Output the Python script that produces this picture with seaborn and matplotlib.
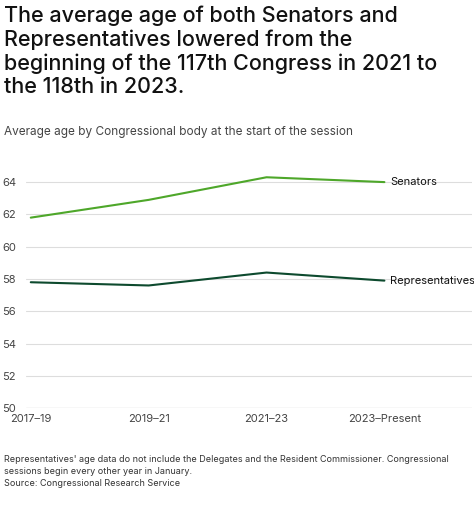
import matplotlib
matplotlib.use("Agg")
import matplotlib.pyplot as plt
import seaborn as sns
import pandas as pd

sessions = ["2017–19", "2019–21", "2021–23", "2023–Present"]
senators = [61.8, 62.9, 64.3, 64.0]
representatives = [57.8, 57.6, 58.4, 57.9]

df = pd.DataFrame({"x": range(4), "Senators": senators, "Representatives": representatives})

sns.set_style("white")
plt.rcParams["font.family"] = ["Inter", "DejaVu Sans"]

fig = plt.figure(figsize=(4.74, 5.09), dpi=100)
ax = fig.add_axes([0.055, 0.198, 0.94, 0.495])

colors = {"Senators": "#4ea72a", "Representatives": "#0d4a2e"}
for name in ["Senators", "Representatives"]:
    sns.lineplot(data=df, x="x", y=name, ax=ax, color=colors[name], linewidth=1.5)
    ax.text(3.05, df[name].iloc[-1], name, va="center", fontsize=8, color="#111111")

ax.set_xlim(-0.04, 3.74)
ax.set_ylim(50, 65.6)
ax.set_yticks(range(50, 65, 2))
ax.set_xticks(range(4))
ax.set_xticklabels(sessions, fontsize=8, color="#444444")
ax.tick_params(axis="y", labelsize=8, labelcolor="#444444", pad=-2, length=0)
ax.tick_params(axis="x", length=0, pad=4)
for lab in ax.get_yticklabels():
    lab.set_horizontalalignment("left")
    lab.set_x(-0.06)
ax.grid(axis="y", color="#dddddd", linewidth=0.8)
for s in ax.spines.values():
    s.set_visible(False)
ax.axhline(50, color="#999999", linewidth=0.8)
ax.set_xlabel("")
ax.set_ylabel("")

fig.text(0.008, 0.99, "The average age of both Senators and\nRepresentatives lowered from the\nbeginning of the 117th Congress in 2021 to\nthe 118th in 2023.",
         va="top", ha="left", fontsize=15.5, fontweight="medium", color="#111111", linespacing=1.22)
fig.text(0.008, 0.735, "Average age by Congressional body at the start of the session",
         fontsize=8.5, color="#444444")
fig.text(0.008, 0.045, "Representatives' age data do not include the Delegates and the Resident Commissioner. Congressional\nsessions begin every other year in January.\nSource: Congressional Research Service",
         fontsize=6.5, color="#333333", linespacing=1.4)

fig.savefig("out.png", dpi=100)
